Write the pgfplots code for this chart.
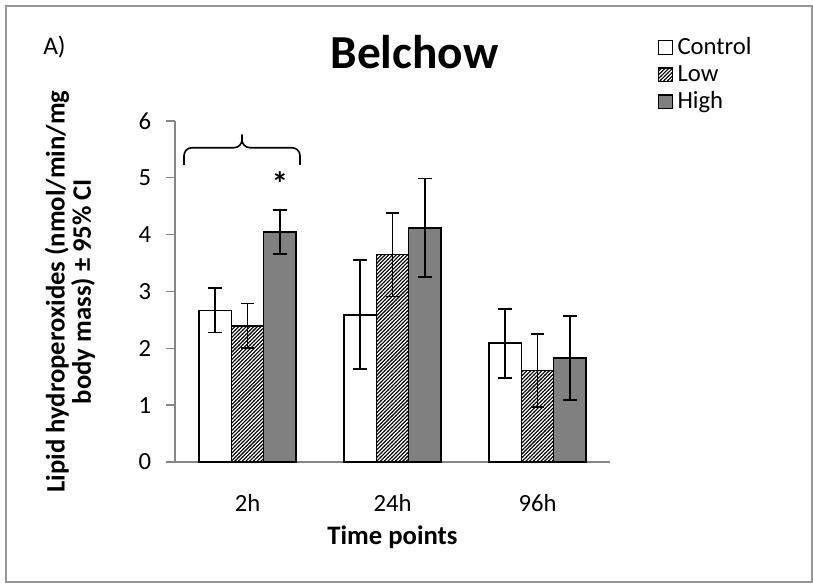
\documentclass[border=0pt]{standalone}
\usepackage{fontspec}
\setmainfont{Carlito}
\usepackage{pgfplots}
\usepackage{pgfplotstable}
\pgfplotsset{compat=1.18}
\usetikzlibrary{patterns}
\definecolor{axgray}{RGB}{134,134,134}
\definecolor{barg}{RGB}{128,128,128}
\definecolor{frameg}{RGB}{150,150,150}
\makeatletter
\pgfdeclarepatternformonly{myhatch}{\pgfqpoint{-1pt}{-1pt}}{\pgfqpoint{4pt}{4pt}}{\pgfqpoint{2.8pt}{2.8pt}}{%
  \pgfsys@setlinewidth{0.8pt}%
  \pgfpathmoveto{\pgfqpoint{-0.2pt}{-0.2pt}}%
  \pgfpathlineto{\pgfqpoint{3pt}{3pt}}%
  \pgfusepath{stroke}}
\makeatother

\pgfplotstableread{
x y ep em
0 2.67 0.39 0.39
1 2.59 0.96 0.96
2 2.09 0.60 0.61
}\control
\pgfplotstableread{
x y ep em
0 2.39 0.40 0.39
1 3.65 0.73 0.74
2 1.61 0.64 0.64
}\low
\pgfplotstableread{
x y ep em
0 4.05 0.38 0.39
1 4.12 0.87 0.86
2 1.83 0.74 0.74
}\high

\begin{document}
\begin{tikzpicture}
\useasboundingbox (0pt,0pt) rectangle (609.75pt,438pt);
\draw[frameg, line width=1.2pt] (4.5pt,1.5pt) rectangle (609pt,433.5pt);
\begin{axis}[
 at={(131.25pt,91.5pt)}, anchor=south west,
 scale only axis, width=326.25pt, height=255.75pt,
 xmin=-0.5, xmax=2.5, ymin=0, ymax=6,
 clip=false,
 axis lines=left, axis line style={-, axgray, line width=1pt},
 xtick={0,1,2}, xticklabels={2h,24h,96h},
 ytick={0,1,2,3,4,5,6},
 xtick style={draw=none},
 ytick style={axgray, line width=1pt},
 tick align=outside, major tick length=6.75pt,
 /pgf/number format/assume math mode=true,
 ticklabel style={font=\fontsize{18.5}{21}\selectfont},
 yticklabel style={anchor=east, inner sep=0pt, xshift=-11pt},
 xticklabel style={anchor=base, inner sep=0pt, yshift=-30.5pt},
 xlabel={Time points},
 xlabel style={font=\bfseries\fontsize{20}{23}\selectfont, at={(axis description cs:0.5,-0.2405)}, anchor=base, inner sep=0pt},
 ylabel={Lipid hydroperoxides (nmol/min/mg},
 ylabel style={font=\bfseries\fontsize{20}{22}\selectfont, at={(axis description cs:-0.2713,0.5)}, anchor=center, inner sep=0pt},
 ybar=0pt, bar width=0.224,
 legend cell align=left,
 legend style={at={(1.1103,1.247)}, anchor=north west, draw=none, fill=none, inner sep=0pt, outer sep=0pt,
   font=\fontsize{18.5}{21}\selectfont, row sep=3.4pt,
   nodes={inner sep=0pt, text height=13pt, text depth=4pt},
   /tikz/every odd column/.append style={column sep=3.5pt}},
 legend image code/.code={\draw[#1, line width=1pt] (0pt,-4.6pt) rectangle (10.2pt,5.6pt);},
 error bars/error bar style={line width=1.3pt, black, solid},
 error bars/error mark options={rotate=90, mark size=4.9pt, line width=1.3pt, black},
]
\addplot[fill=white, draw=black, line width=1.1pt, bar shift=-0.224,
  error bars/.cd, y dir=both, y explicit]
  table[x=x, y=y, y error plus=ep, y error minus=em] {\control};
\addlegendentry{Control}
\addplot[preaction={fill=white}, pattern=myhatch, pattern color=black, draw=black, line width=1.1pt, bar shift=0]
  table[x=x, y=y] {\low};
\addlegendentry{Low}
\addplot[forget plot, sharp plot, draw=none, mark=none, bar shift=0,
  error bars/.cd, y dir=both, y explicit]
  table[x=x, y=y, y error plus=ep, y error minus=em] {\low};
\addplot[fill=barg, draw=black, line width=1.1pt, bar shift=0.224,
  error bars/.cd, y dir=both, y explicit]
  table[x=x, y=y, y error plus=ep, y error minus=em] {\high};
\addlegendentry{High}
\draw[black, line width=1.2pt, rounded corners=6pt]
  (axis cs:-0.438,5.226) -- (axis cs:-0.438,5.53) -- (axis cs:-0.038,5.53) -- (axis cs:-0.038,5.76);
\draw[black, line width=1.2pt, rounded corners=6pt]
  (axis cs:0.362,5.226) -- (axis cs:0.362,5.53) -- (axis cs:-0.038,5.53) -- (axis cs:-0.038,5.76);
\node[anchor=north, inner sep=0pt, font=\bfseries\fontsize{25}{28}\selectfont] at (axis cs:0.224,5.115) {*};
\node[rotate=90, anchor=center, inner sep=0pt, font=\bfseries\fontsize{20}{22}\selectfont] at (axis description cs:-0.2115,0.5) {body mass) ± 95\% CI};
\end{axis}
\node[anchor=base west, inner sep=0pt, font=\fontsize{19}{22}\selectfont] at (32.25pt,396.75pt) {A)};
\node[anchor=base, inner sep=0pt, font=\bfseries\fontsize{35.5}{40}\selectfont] at (310.9pt,386.8pt) {Belchow};
\end{tikzpicture}
\end{document}
